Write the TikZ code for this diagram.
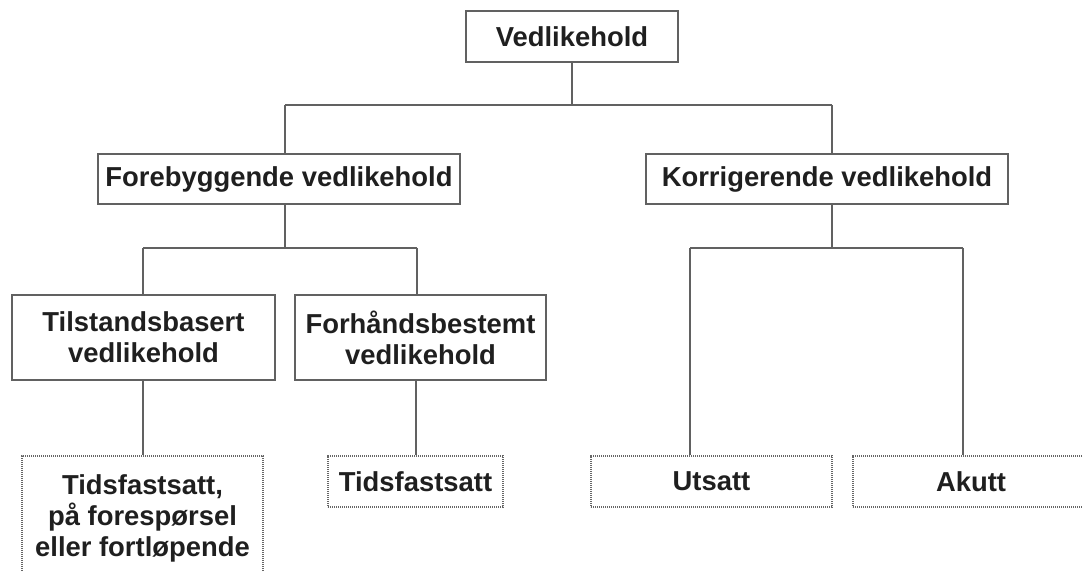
\documentclass[tikz,border=0pt]{standalone}
\usepackage{fontspec}
\setmainfont{Liberation Sans}

\tikzset{
  box/.style={draw=black!62, line width=0.9pt, align=center, inner sep=0pt,
    text=black!88, font=\bfseries\fontsize{13.7}{15.5}\selectfont},
  dotbox/.style={box, draw=black!60, line width=1pt, dash pattern=on 0.6pt off 0.4pt},
  link/.style={draw=black!62, line width=0.9pt}
}

\begin{document}
\begin{tikzpicture}[x=0.5pt, y=-0.5pt]
\useasboundingbox (0,0) rectangle (1083,572);
% top level
\node[box, minimum width=106pt, minimum height=25.5pt] (vedl) at (572,36.5) {Vedlikehold};
\node[box, minimum width=181pt, minimum height=25pt] (fore) at (279,179) {Forebyggende vedlikehold};
\node[box, minimum width=181pt, minimum height=25pt] (korr) at (827,179) {Korrigerende vedlikehold};
% second level
\node[box, minimum width=131.5pt, minimum height=42.5pt] (tilst) at (143.5,337.5) {Tilstandsbasert\\vedlikehold};
\node[box, minimum width=125.5pt, minimum height=42.5pt] (forh) at (420.5,337.5) {Forhåndsbestemt\\vedlikehold};
% bottom (dotted)
\node[dotbox, minimum width=120.5pt, minimum height=62pt] (tidsa) at (142.5,518) {Tidsfastsatt,\\på forespørsel\\eller fortløpende};
\node[dotbox, minimum width=87.5pt, minimum height=25.5pt] (tidsb) at (415.5,481.5) {Tidsfastsatt};
\node[dotbox, minimum width=120.5pt, minimum height=25.5pt] (utsatt) at (711.5,481.5) {Utsatt};
\node[dotbox, minimum width=118pt, minimum height=25.5pt] (akutt) at (971,481.5) {Akutt};
% junctions
\coordinate (j1l) at (285,105);
\coordinate (j1r) at (832,105);
\coordinate (j2l) at (143,248);
\coordinate (j2r) at (417,248);
\coordinate (j3l) at (690,248);
\coordinate (j3r) at (963,248);
% connectors
\draw[link] (vedl.south) -- (vedl.south |- j1l) (j1l) -- (j1r)
  (j1l) -- (j1l |- fore.north) (j1r) -- (j1r |- korr.north);
\draw[link] (j1l |- fore.south) -- (j1l |- j2l) (j2l) -- (j2r)
  (j2l) -- (j2l |- tilst.north) (j2r) -- (j2r |- forh.north);
\draw[link] (j1r |- korr.south) -- (j1r |- j3l) (j3l) -- (j3r)
  (j3l) -- (j3l |- utsatt.north) (j3r) -- (j3r |- akutt.north);
\draw[link] (j2l |- tilst.south) -- (j2l |- tidsa.north);
\draw[link] (tidsb.north -| 416,0) -- (416,0 |- forh.south);
\end{tikzpicture}
\end{document}
